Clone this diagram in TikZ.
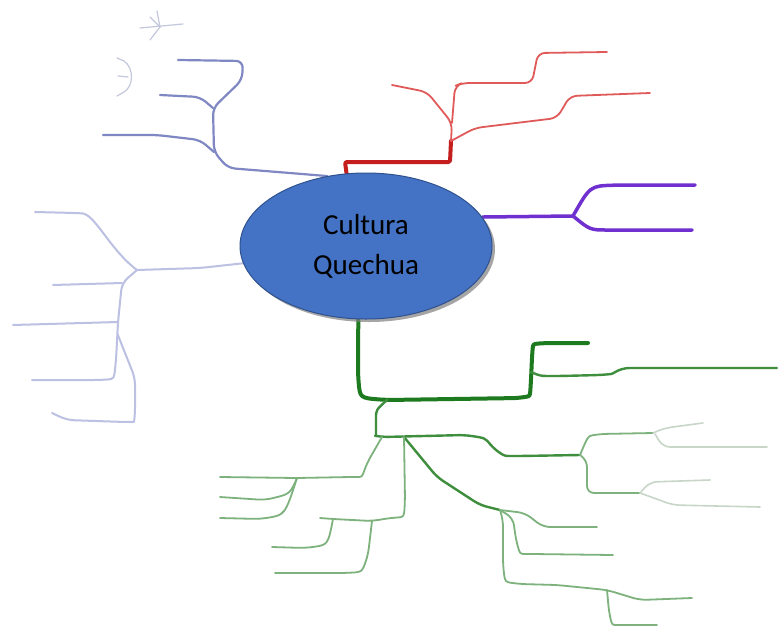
\documentclass[tikz,border=0pt]{standalone}
\usepackage{fontspec}
\setmainfont{Carlito}
\usetikzlibrary{shapes.geometric,shadows,backgrounds}
\definecolor{coreblue}{HTML}{4472C4}
\definecolor{coreedge}{HTML}{2F528F}
\definecolor{bluebr}{HTML}{8088C4}
\definecolor{lavbr}{HTML}{BCC0E2}
\definecolor{reddark}{HTML}{C41E1E}
\definecolor{redlight}{HTML}{E05A5A}
\definecolor{purplebr}{HTML}{7030D0}
\definecolor{greendark}{HTML}{1E7A1E}
\definecolor{greenmid}{HTML}{3E8E3E}
\definecolor{greenlight}{HTML}{7DB27D}
\definecolor{greenfaint}{HTML}{C8D6C8}
\definecolor{iconfaint}{HTML}{C4C8DC}
\begin{document}
\begin{tikzpicture}[x=1pt,y=-1pt,
    core/.style={ellipse,draw=coreedge,line width=1pt,fill=coreblue,
      minimum width=252pt,minimum height=146pt,inner sep=0pt,align=center,
      font=\fontsize{29}{40}\selectfont,
      drop shadow={shadow xshift=3pt,shadow yshift=-3pt,opacity=0.7}},
    br/.style={line cap=round,line join=round,rounded corners=7pt},
    blueb/.style={br,draw=bluebr,line width=2.2pt},
    lavb/.style={br,draw=lavbr,line width=2pt},
    redb/.style={br,draw=reddark,line width=4pt,rounded corners=2pt},
    redt/.style={br,draw=redlight,line width=1.8pt},
    purb/.style={br,draw=purplebr,line width=3.5pt},
    gthick/.style={br,draw=greendark,line width=4pt},
    gmid/.style={br,draw=greenmid,line width=2.4pt},
    glight/.style={br,draw=greenlight,line width=1.8pt},
    gfaint/.style={br,draw=greenfaint,line width=1.6pt},
    icon/.style={draw=iconfaint,line width=1.2pt,line cap=round}]
  \useasboundingbox (0,0) rectangle (778,632);
  \node[core] (cq) at (366,246) {Cultura\\Quechua};
  \begin{scope}[on background layer]
    \fill[white] (0,0) rectangle (778,632);
    % faint icons
    \draw[icon] (140,28) -- (183,24);
    \draw[icon] (150,17) -- (160,27) -- (150,40);
    \draw[icon] (157,11) -- (160,27);
    \draw[icon] (117,58) -- (124,61) .. controls (134,68) and (134,86) .. (124,92) -- (117,96);
    \draw[icon] (118,76) -- (128,77);
    % blue branch
    \coordinate (b1) at (213,108);
    \coordinate (b2) at (214,152);
    \draw[blueb] (cq.119) -- (228,168) -- (b2) -- (b1) -- (242,80) -- (243,61) -- (178,60);
    \draw[blueb] (b1) -- (200,97) -- (160,95);
    \draw[blueb] (b2) -- (200,140) -- (157,135) -- (103,135);
    % red branch
    \coordinate (r1) at (451,141);
    \coordinate (r2) at (452,123);
    \draw[redb] (cq.105) -- (345,162) -- (450,162) -- (r1);
    \draw[redt] (r1) -- (r2) -- (427,92) -- (392,85);
    \draw[redt] (r2) -- (455,86) -- (462,83) -- (532,83) -- (538,53) -- (607,52);
    \draw[redt] (r1) -- (475,128) -- (557,118) -- (570,96) -- (650,93);
    % purple branch
    \coordinate (p1) at (573,216);
    \draw[purb] (cq.14) -- (p1);
    \draw[purb] (p1) .. controls (590,186) .. (620,185) -- (695,185);
    \draw[purb] (p1) .. controls (590,230) .. (615,230) -- (692,230);
    % lavender branch
    \coordinate (l1) at (137,270);
    \coordinate (l2) at (122,283);
    \coordinate (l3) at (118,322);
    \coordinate (l4) at (117.5,334);
    \draw[lavb] (cq.188) -- (200,268) -- (l1);
    \draw[lavb] (l1) .. controls (110,250) and (95,214) .. (75,213) -- (35,212);
    \draw[lavb] (l1) -- (l2) -- (l3) -- (116,360) .. controls (114,379) .. (100,380) -- (32,380);
    \draw[lavb] (l2) -- (53,285);
    \draw[lavb] (l3) -- (13,325);
    \draw[lavb] (l4) -- (135,378) -- (135,415) .. controls (134,422) .. (125,422) -- (67,420) -- (52,413);
    % green branch
    \coordinate (g1) at (387,400);
    \coordinate (g2) at (531,372);
    \coordinate (g3) at (382,437);
    \coordinate (g4) at (580,455);
    \coordinate (g5) at (500,510);
    \coordinate (g6) at (607,590);
    \coordinate (g7) at (297,478);
    \coordinate (g8) at (333,519);
    \coordinate (g9) at (372,521);
    \draw[gthick] (cq.264) -- (358,375) .. controls (360,398) .. (g1) -- (520,398)
      .. controls (530,396) .. (531,380) -- (532,357) .. controls (533,344) .. (545,343) -- (588,343);
    \draw[gmid] (g2) .. controls (540,376) .. (560,376) -- (600,375) .. controls (612,374) .. (622,368) -- (777,368);
    \draw[gmid] (g1) .. controls (376,410) .. (376,425) .. controls (376,436) .. (g3) -- (465,435)
      .. controls (485,438) .. (495,450) .. controls (505,456) .. (520,456) -- (g4);
    \draw[glight] (g4) .. controls (588,436) .. (600,434) -- (653,433);
    \draw[glight] (g4) -- (587,460) -- (587,493) -- (640,493);
    \draw[gfaint] (653,433) -- (665,428) -- (703,423);
    \draw[gfaint] (655,434) -- (663,447) -- (767,447);
    \draw[gfaint] (640,493) -- (650,482) -- (710,480);
    \draw[gfaint] (640,493) -- (673,505) -- (760,507);
    \draw[gmid] (404,437) -- (437,477) -- (480,505) -- (g5);
    \draw[glight] (g5) -- (525,513) -- (543,527) -- (597,527);
    \draw[glight] (g5) -- (513,518) -- (516,540) .. controls (520,554) .. (533,554) -- (613,555);
    \draw[glight] (g5) -- (503,520) -- (503,565) .. controls (505,582) .. (520,584) -- (557,585)
      -- (g6) -- (640,600) -- (692,598);
    \draw[glight] (g6) -- (609,612) .. controls (612,625) .. (625,625) -- (657,625);
    \draw[glight] (g3) -- (367,463) .. controls (362,477) .. (350,477) -- (g7) -- (220,477);
    \draw[glight] (g7) .. controls (290,494) .. (265,500) -- (220,497);
    \draw[glight] (g7) .. controls (285,515) .. (260,519) -- (220,518);
    \draw[glight] (404,437) -- (405,500) .. controls (404,517) .. (390,518) -- (g9) -- (g8) -- (320,518);
    \draw[glight] (g8) .. controls (328,545) .. (305,548) -- (272,547);
    \draw[glight] (g9) -- (368,555) .. controls (362,572) .. (345,573) -- (275,573);
  \end{scope}
\end{tikzpicture}
\end{document}
